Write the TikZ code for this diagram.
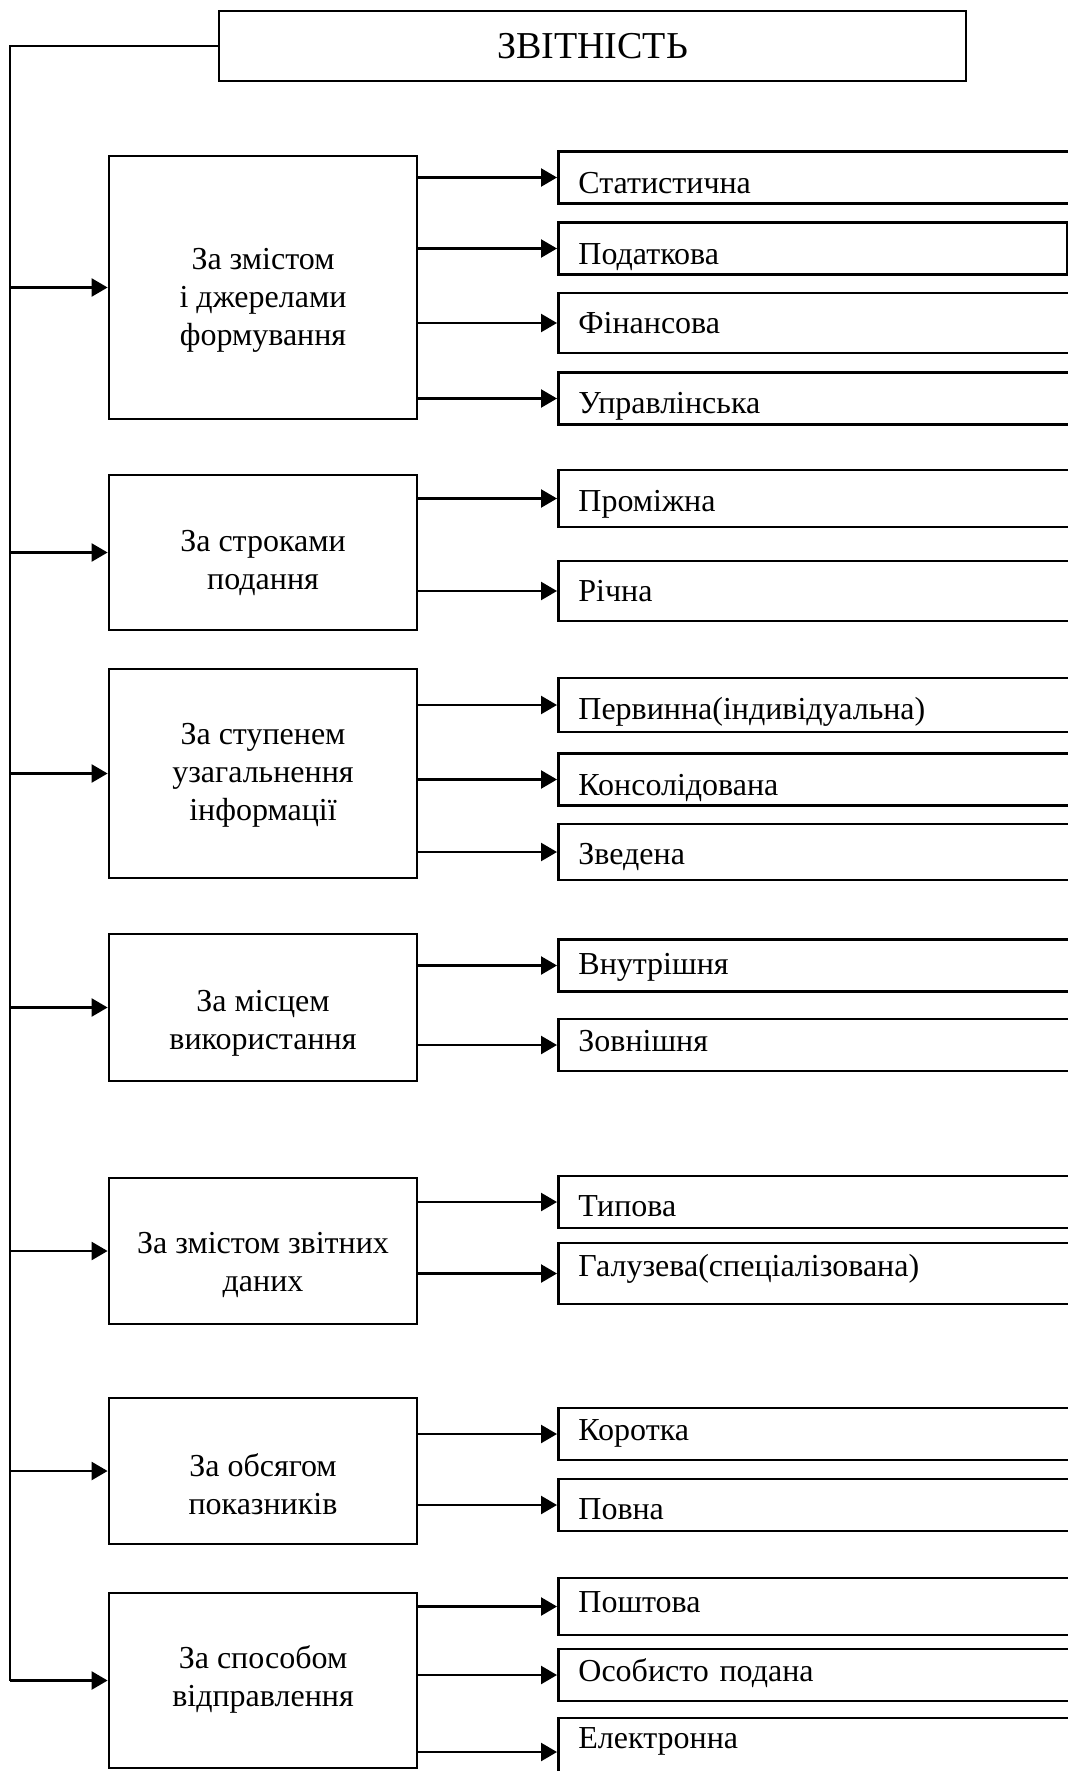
\documentclass[tikz,border=0pt]{standalone}
\usepackage{fontspec}
\setmainfont{Liberation Serif}
\usetikzlibrary{arrows.meta}
\begin{document}
\begin{tikzpicture}[x=0.5pt,y=-0.5pt,
  grp/.style={draw,line width=1.4pt,minimum width=154pt,align=center,inner sep=0pt,text height=#1,text depth=4pt,font=\fontsize{16}{19}\selectfont},
  item/.style={draw,line width=1.4pt,anchor=west,align=left,text width=241.5pt,inner xsep=10pt,inner ysep=0pt,minimum height=26pt,text height=16pt,text depth=#1,font=\fontsize{16}{19}\selectfont},
  item/.default=4pt,
  arr/.style={line width=1.2pt,-{Triangle[length=8pt,width=9pt]}}]
\useasboundingbox (0,0) rectangle (1068,1771);
\node[draw,line width=1.4pt,minimum width=373.5pt,minimum height=35pt,font=\fontsize{19}{22}\selectfont] (zvit) at (592.5,46) {ЗВІТНІСТЬ};

\node[grp=61.9pt,minimum height=131.5pt] (g1) at (263,287.5) {За змістом\\ і джерелами\\ формування};
\node[item=0.1pt] (s1) at (557,177.5) {Статистична};
\node[item=0.1pt,text width=234.5pt] (s2) at (557,248.5) {Податкова};
\node[item=5.6pt,minimum height=30pt] (s3) at (557,323) {Фінансова};
\node[item=1.1pt] (s4) at (557,398.5) {Управлінська};

\node[grp=41.4pt,minimum height=77.5pt] (g2) at (263,552.5) {За строками\\ подання};
\node[item=3.1pt,minimum height=28.5pt] (p1) at (557,498.5) {Проміжна};
\node[item=5.6pt,minimum height=30pt] (p2) at (557,591) {Річна};

\node[grp=50.9pt,minimum height=104.5pt] (g3) at (263,773.5) {За ступенем\\ узагальнення\\ інформації};
\node[item=1.6pt,minimum height=27pt] (t1) at (557,705) {Первинна(індивідуальна)};
\node[item=0.1pt] (t2) at (557,779.5) {Консолідована};
\node[item=3.6pt,minimum height=28pt] (t3) at (557,852) {Зведена};

\node[grp=46.4pt,minimum height=73.5pt] (g4) at (263,1007.5) {За місцем\\ використання};
\node[item=7.1pt] (m1) at (557,965.5) {Внутрішня};
\node[item=9.6pt] (m2) at (557,1045) {Зовнішня};

\node[grp=44.4pt,minimum height=73pt] (g5) at (263,1251) {За змістом звітних\\ даних};
\node[item=1.6pt] (d1) at (557,1202) {Типова};
\node[item=13.1pt,minimum height=30.5pt] (d2) at (557,1273.5) {Галузева(спеціалізована)};

\node[grp=47.4pt,minimum height=73pt] (g6) at (263,1471) {За обсягом\\ показників};
\node[item=9.6pt] (o1) at (557,1434) {Коротка};
\node[item=1.6pt] (o2) at (557,1505) {Повна};

\node[grp=30.4pt,minimum height=87.5pt] (g7) at (263,1680.5) {За способом\\ відправлення};
\node[item=10.1pt,minimum height=28.5pt] (v1) at (557,1606.5) {Поштова};
\node[item=9.6pt] (v2) at (557,1675) {Особисто подана};
\node[item=15.6pt,text height=12pt,minimum height=34pt] (v3) at (557,1752) {Електронна};

\coordinate (spine) at (10,46);
\draw[line width=1.2pt] (zvit.west) -- (spine) -- (spine |- g7.west);
\foreach \i in {1,...,7}
  \draw[arr] (spine |- g\i.west) -- (g\i.west);
\foreach \g/\s in {g1/s1,g1/s2,g1/s3,g1/s4,g2/p1,g2/p2,g3/t1,g3/t2,g3/t3,g4/m1,g4/m2,g5/d1,g5/d2,g6/o1,g6/o2,g7/v1,g7/v2,g7/v3}
  \draw[arr] (\g.east |- \s.west) -- (\s.west);
\end{tikzpicture}
\end{document}
